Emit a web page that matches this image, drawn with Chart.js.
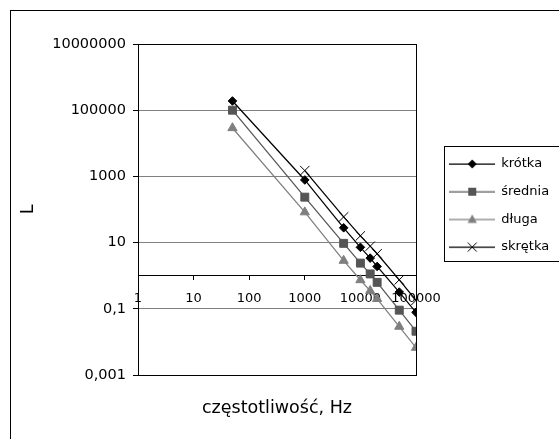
<!DOCTYPE html>
<html><head><meta charset="utf-8">
<script src="https://cdn.jsdelivr.net/npm/chart.js@4/dist/chart.umd.min.js"></script>
<style>html,body{margin:0;padding:0;background:#fff;overflow:hidden}canvas{display:block}</style>
</head><body>
<canvas id="c" width="559" height="439"></canvas>
<script>
// ---- data ----
const frequencies = [50, 1000, 5000, 10000, 15000, 20000, 50000, 100000];
const krotka  = [190000, 780, 28, 7.2, 3.4, 1.9, 0.32, 0.078];
const srednia = [100000, 236, 9.5, 2.4, 1.13, 0.63, 0.091, 0.021];
const dluga   = [29000, 83, 2.85, 0.74, 0.35, 0.2, 0.029, 0.0067];
const skretka = [null, 1500, 60, 16, 7.8, 4.6, 0.75, 0.18];
const seriesNames = ['krótka', 'średnia', 'długa', 'skrętka'];
const xTickValues = [1, 10, 100, 1000, 10000, 100000];
const xTickLabels = ['1', '10', '100', '1000', '10000', '100000'];
const yTickValues = [0.001, 0.1, 10, 1000, 100000, 10000000];
const yTickLabels = ['0,001', '0,1', '10', '1000', '100000', '10000000'];
const xTitle = 'częstotliwość, Hz';
const yTitle = 'L';

Chart.defaults.font.family = 'DejaVu Sans';
Chart.defaults.color = '#000';

const pts = vals => frequencies.map((f, i) => ({x: f, y: vals[i]}));

function makeIcon(color, style) {
  const c = document.createElement('canvas');
  c.width = 46; c.height = 14;
  const g = c.getContext('2d');
  g.strokeStyle = color; g.lineWidth = 1.25;
  g.beginPath(); g.moveTo(0, 7); g.lineTo(46, 7); g.stroke();
  g.fillStyle = color; g.lineWidth = 1;
  const cx = 23, cy = 7;
  g.beginPath();
  if (style === 'rectRot') {
    g.moveTo(cx, cy - 4.5); g.lineTo(cx + 4.5, cy); g.lineTo(cx, cy + 4.5); g.lineTo(cx - 4.5, cy); g.closePath(); g.fill();
  } else if (style === 'rect') {
    g.rect(cx - 4, cy - 4, 8, 8); g.fill();
  } else if (style === 'triangle') {
    g.moveTo(cx, cy - 5); g.lineTo(cx + 4.6, cy + 3.5); g.lineTo(cx - 4.6, cy + 3.5); g.closePath(); g.fill();
  } else {
    g.moveTo(cx - 4.5, cy - 4.5); g.lineTo(cx + 4.5, cy + 4.5);
    g.moveTo(cx + 4.5, cy - 4.5); g.lineTo(cx - 4.5, cy + 4.5); g.stroke();
  }
  return c;
}

const styles = [
  {color: '#000000', point: 'rectRot', radius: 4.3},
  {color: '#555555', point: 'rect', radius: 5.6},
  {color: '#7f7f7f', point: 'triangle', radius: 5.3},
  {color: '#000000', point: 'crossRot', radius: 6.6}
];
const legendIcons = styles.map(s => makeIcon(s.color, s.point));
const seriesValues = [krotka, srednia, dluga, skretka];

const datasets = seriesValues.map((vals, i) => ({
  label: seriesNames[i],
  data: pts(vals),
  yAxisID: 'y', xAxisID: 'x',
  borderColor: styles[i].color,
  backgroundColor: styles[i].color,
  borderWidth: 1.25,
  pointStyle: styles[i].point,
  pointRadius: styles[i].radius,
  pointHoverRadius: styles[i].radius,
  pointBorderWidth: 1,
  pointBackgroundColor: styles[i].color,
  pointBorderColor: styles[i].color,
  tension: 0,
  fill: false
}));

const frames = {
  id: 'frames',
  beforeDatasetsDraw(chart) {
    const {ctx, chartArea: a} = chart;
    ctx.save();
    ctx.strokeStyle = '#000'; ctx.lineWidth = 1;
    ctx.strokeRect(a.left + 0.5, a.top + 0.5, a.right - a.left, a.bottom - a.top);
    ctx.restore();
  },
  afterDraw(chart) {
    const ctx = chart.ctx;
    ctx.save();
    ctx.strokeStyle = '#000'; ctx.lineWidth = 1;
    ctx.strokeRect(10.5, 10.5, 1000, 1000);
    ctx.strokeRect(444.5, 146.5, 300, 115);
    ctx.restore();
  }
};

new Chart(document.getElementById('c'), {
  type: 'line',
  data: {datasets},
  plugins: [frames],
  options: {
    responsive: false,
    animation: false,
    devicePixelRatio: 1,
    layout: {padding: {left: 0, top: 44, right: 0, bottom: 20}},
    scales: {
      y: {
        type: 'logarithmic', position: 'left', min: 0.001, max: 10000000,
        afterBuildTicks: s => { s.ticks = yTickValues.map(v => ({value: v})); },
        afterFit: s => { s.width = 138; },
        grid: {color: '#808080', lineWidth: 1, drawTicks: true, tickLength: 5, tickColor: '#000'},
        border: {display: true, color: '#000', width: 1},
        ticks: {padding: 7, color: '#000', font: {size: 14.5}, autoSkip: false,
                callback: (v, i) => yTickLabels[i]},
        title: {display: true, text: yTitle, color: '#000', font: {size: 17.5}, padding: {top: 18, bottom: 0}}
      },
      x: {
        type: 'logarithmic', position: {y: 1}, min: 1, max: 100000,
        afterBuildTicks: s => { s.ticks = xTickValues.map(v => ({value: v})); },
        grid: {display: true, drawOnChartArea: false, drawTicks: true, tickLength: 4, tickColor: '#000', color: '#000'},
        border: {display: true, color: '#000', width: 1},
        ticks: {autoSkip: false, maxRotation: 0, minRotation: 0, padding: 11, color: '#000', font: {size: 13},
                callback: (v, i) => xTickLabels[i]}
      },
      gap: {
        axis: 'y', type: 'linear', position: 'right', display: true,
        grid: {display: false, drawTicks: false}, border: {display: false}, ticks: {display: false},
        afterFit: s => { s.width = 19; }
      }
    },
    plugins: {
      tooltip: {enabled: false},
      title: {
        display: true, position: 'bottom', fullSize: false, text: xTitle, color: '#000',
        font: {size: 17.5, weight: 'normal', lineHeight: 1.2}, padding: {top: 23, bottom: 0}
      },
      legend: {
        display: true, position: 'right', fullSize: false, align: 'start', maxWidth: 124,
        title: {display: true, text: '', padding: {top: 88.8, bottom: 0}, font: {size: 10, lineHeight: 1}},
        labels: {
          usePointStyle: true, pointStyleWidth: 45, padding: 14.7, color: '#000', font: {size: 13},
          generateLabels: chart => chart.data.datasets.map((ds, i) => ({
            text: ds.label, pointStyle: legendIcons[i], datasetIndex: i, hidden: false,
            lineWidth: 0, fillStyle: styles[i].color, strokeStyle: styles[i].color, fontColor: '#000'
          }))
        }
      }
    }
  }
});
</script>
</body></html>
